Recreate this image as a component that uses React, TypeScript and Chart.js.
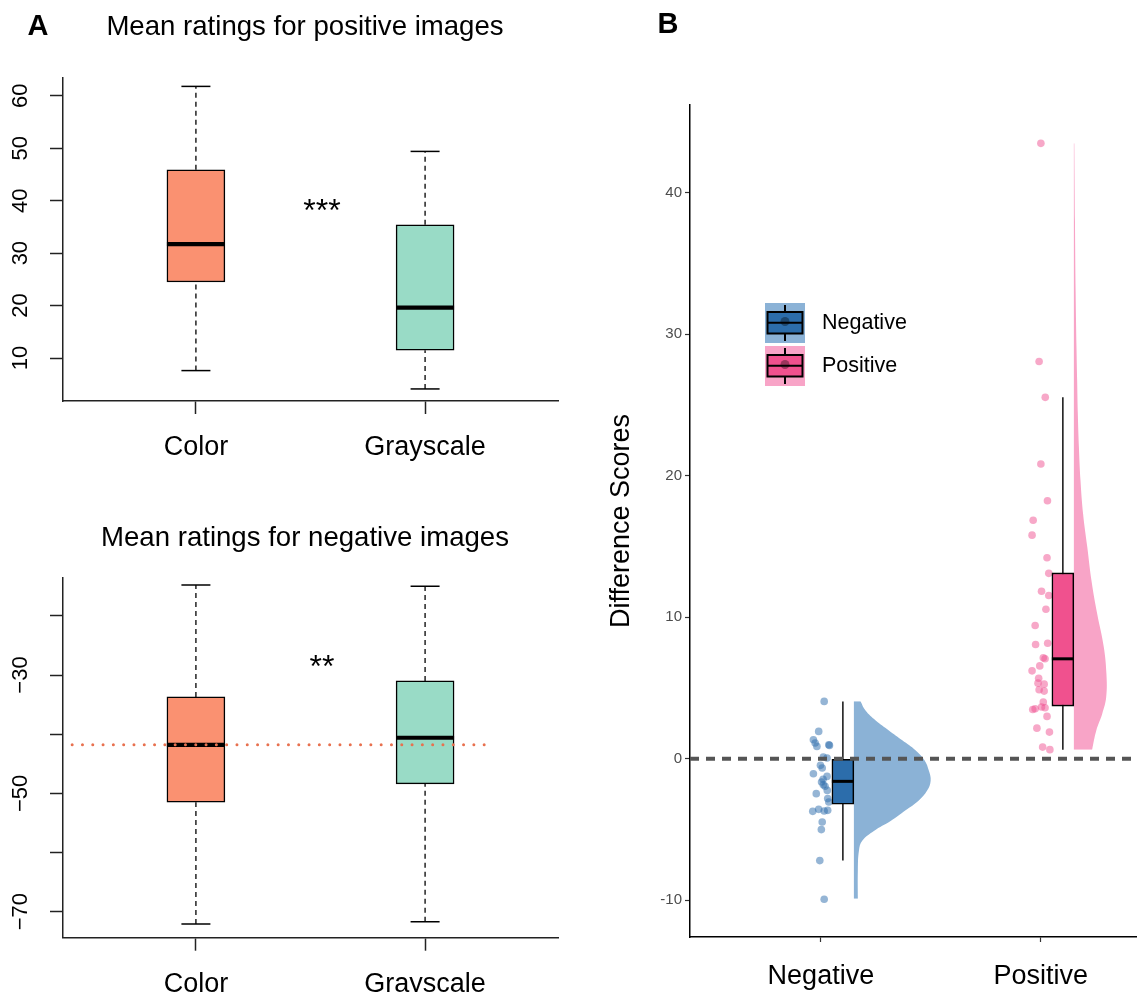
import React, { useEffect, useRef } from "react";
import { Chart, registerables } from "chart.js";

Chart.register(...registerables);

const FONT = "'Liberation Sans', Arial, Helvetica, sans-serif";
Chart.defaults.font.family = FONT;
Chart.defaults.color = "#000";

// ---------------- Panel A data ----------------
const groupsA = ["Color", "Grayscale"];

const posTitle = "Mean ratings for positive images";
const posMin = [7.6, 4.1];
const posQ1 = [24.5, 11.5];
const posMedian = [31.7, 19.6];
const posQ3 = [45.9, 35.4];
const posMax = [61.8, 49.4];
const posYTicks = [10, 20, 30, 40, 50, 60];
const posYLabels = [10, 20, 30, 40, 50, 60];
const posYRange = [1.8, 63.4];
const posStars = "***";
const posStarsAt = [1.55, 39.6];

const negTitle = "Mean ratings for negative images";
const negMin = [-72.1, -71.7];
const negQ1 = [-51.5, -48.4];
const negMedian = [-41.8, -40.6];
const negQ3 = [-33.7, -31.0];
const negMax = [-14.8, -15.0];
const negYTicks = [-70, -60, -50, -40, -30, -20];
const negYLabels = [-70, -50, -30];
const negYRange = [-74.4, -13.6];
const negStars = "**";
const negStarsAt = [1.55, -27.2];
const negRefX = [0.46, 2.28];
const negRefY = -41.8;

const xRangeA = [0.42, 2.58];

// ---------------- Panel B data ----------------
const groupsB = ["Negative", "Positive"];
const diffNeg = [
  4.05, 1.93, 1.34, 1.11, 0.87, 0.99, 0.94, 0.12, 0.05, -0.47, -0.66, -1.06, -1.25, -1.45,
  -1.65, -1.84, -1.95, -2.24, -2.47, -2.82, -3.06, -3.72, -3.58, -3.69, -3.65, -4.47, -5.01,
  -7.2, -9.93,
];
const diffNegJitter = [
  0.015, -0.01, -0.034, -0.026, -0.018, 0.036, 0.039, 0.011, 0.028, -0.002, 0.006, -0.034,
  0.028, 0.01, 0.003, 0.011, 0.019, 0.029, -0.021, 0.031, 0.036, -0.037, -0.01, 0.015, 0.031,
  0.006, 0.002, -0.005, 0.015,
];
const diffPos = [
  43.49, 28.07, 25.54, 20.83, 18.23, 16.85, 15.8, 14.2, 13.1, 11.84, 11.53, 10.56, 9.41, 8.16,
  8.07, 7.13, 7.06, 6.56, 6.21, 5.69, 5.34, 5.27, 4.87, 4.78, 4.0, 3.48, 3.53, 3.65, 3.6, 2.99,
  2.16, 1.88, 0.82, 0.64,
];
const diffPosJitter = [
  0.0, -0.008, 0.02, 0.0, 0.03, -0.035, -0.04, 0.028, 0.036, 0.003, 0.036, 0.023, -0.026, 0.031,
  -0.024, 0.011, 0.019, -0.005, -0.04, -0.01, -0.013, 0.015, -0.008, 0.015, 0.011, -0.037,
  -0.026, 0.003, 0.019, 0.028, -0.018, 0.039, 0.008, 0.041,
];
const boxBMin = [-7.2, 0.64];
const boxBQ1 = [-3.22, 3.72];
const boxBMedian = [-1.6, 7.06];
const boxBQ3 = [0.0, 13.13];
const boxBMax = [4.05, 25.54];

const negViolinY = [-9.9, -7.9, -6.5, -5.8, -5.1, -4.4, -3.65, -2.95, -2.25, -1.55, -0.85, -0.1, 0.6, 1.3, 2.0, 2.7, 3.4, 4.07];
const negViolinW = [0.018, 0.018, 0.023, 0.038, 0.091, 0.167, 0.235, 0.295, 0.333, 0.349, 0.341, 0.321, 0.28, 0.22, 0.159, 0.099, 0.053, 0.03];
const posViolinY = [0.64, 2.0, 3.18, 4.36, 6.0, 7.9, 10.25, 12.6, 14.96, 17.3, 19.7, 22.0, 24.4, 26.7, 29, 33, 38, 43.5];
const posViolinW = [0.083, 0.102, 0.129, 0.147, 0.148, 0.136, 0.106, 0.08, 0.061, 0.042, 0.03, 0.023, 0.018, 0.015, 0.012, 0.008, 0.005, 0.002];

const yTicksB = [-10, 0, 10, 20, 30, 40];
const yRangeB = [-12.6, 46.2];
const xRangeB = [0.405, 2.437];
const refLineB = 0;

// ---------------- styles ----------------
const boxColorsA = ["#FA9171", "#99DBC6"];
const refColor = "#E8714F";
const boxColorsB = ["#2C6DAB", "#F0518E"];
const pointColorsB = ["rgba(44,108,172,0.5)", "rgba(240,82,146,0.5)"];
const violinColorsB = ["#8BB2D6", "#F8A4C7"];

const fmtMinus = (v: number) => String(v).replace("-", "\u2212");

type BoxPanel = {
  title: string;
  titleY: number;
  mins: number[];
  q1: number[];
  med: number[];
  q3: number[];
  maxs: number[];
  yTicks: number[];
  yLabels: number[];
  yRange: number[];
  stars: string;
  starsAt: number[];
  letter?: string;
  ref?: { x: number[]; y: number };
  areaTop: number;
  xAxisHeight: number;
  yTickPad: number;
};

function boxPanelConfig(p: BoxPanel): any {
  const xs = p.q1.map((_, i) => i + 1);
  const whiskers: any[] = [];
  xs.forEach((x, i) => {
    whiskers.push({ x, y: p.mins[i] }, { x, y: p.q1[i] }, { x, y: null });
    whiskers.push({ x, y: p.q3[i] }, { x, y: p.maxs[i] }, { x, y: null });
  });
  const caps: any[] = [];
  xs.forEach((x, i) => caps.push({ x, y: p.mins[i] }, { x, y: p.maxs[i] }));
  const datasets: any[] = [
    {
      type: "line",
      data: whiskers,
      borderColor: "#000",
      borderWidth: 1.3,
      borderDash: [5, 4],
      pointRadius: 0,
      spanGaps: false,
      order: 6,
    },
    {
      type: "scatter",
      data: caps,
      pointStyle: "line",
      pointRadius: 14.5,
      pointBorderColor: "#000",
      borderColor: "#000",
      pointBorderWidth: 1.5,
      order: 5,
    },
    {
      type: "bar",
      data: xs.map((x, i) => ({ x, y: [p.q1[i], p.q3[i]] })),
      backgroundColor: boxColorsA,
      borderColor: "#000",
      borderWidth: 1.5,
      borderSkipped: false,
      barThickness: 58,
      order: 4,
    },
    {
      type: "scatter",
      data: xs.map((x, i) => ({ x, y: p.med[i] })),
      pointStyle: "line",
      pointRadius: 29,
      pointBorderColor: "#000",
      borderColor: "#000",
      pointBorderWidth: 4.2,
      order: 3,
    },
  ];
  if (p.ref) {
    datasets.push({
      type: "line",
      data: p.ref.x.map((x) => ({ x, y: p.ref!.y })),
      borderColor: refColor,
      borderWidth: 3,
      borderDash: [0, 10.3],
      borderCapStyle: "round",
      pointRadius: 0,
      order: 0,
    });
  }
  const annot = {
    id: "annotA",
    afterDatasetsDraw(chart: any) {
      const { ctx } = chart;
      const px = chart.scales.x.getPixelForValue(p.starsAt[0]);
      const py = chart.scales.y.getPixelForValue(p.starsAt[1]);
      ctx.save();
      ctx.fillStyle = "#000";
      ctx.font = `32px ${FONT}`;
      ctx.textAlign = "center";
      ctx.textBaseline = "alphabetic";
      ctx.fillText(p.stars, px, py + 32 * 0.58);
      ctx.font = `27.6px ${FONT}`;
      ctx.textBaseline = "middle";
      ctx.fillText(p.title, 305, p.titleY);
      if (p.letter) {
        ctx.font = `bold 29px ${FONT}`;
        ctx.fillText(p.letter, 38, 27);
      }
      ctx.restore();
    },
  };
  return {
    type: "scatter",
    data: { datasets },
    plugins: [annot],
    options: {
      responsive: false,
      animation: false,
      events: [],
      layout: { autoPadding: false, padding: { left: 0, right: 12, top: p.areaTop, bottom: 0 } },
      plugins: {
        legend: { display: false },
        tooltip: { enabled: false },
        title: { display: false },
      },
      scales: {
        x: {
          type: "linear",
          offset: false,
          min: xRangeA[0],
          max: xRangeA[1],
          bounds: "data",
          afterBuildTicks: (s: any) => {
            s.ticks = xs.map((v) => ({ value: v }));
          },
          afterFit: (s: any) => {
            s.height = p.xAxisHeight;
          },
          ticks: {
            autoSkip: false,
            maxRotation: 0,
            minRotation: 0,
            padding: 17.8,
            color: "#000",
            font: { size: 27, family: FONT },
            callback: (v: number) => groupsA[Math.round(v) - 1] ?? "",
          },
          grid: { display: true, offset: false, drawOnChartArea: false, drawTicks: true, tickLength: 13, tickColor: "#222", tickWidth: 1.5 },
          border: { display: true, color: "#222", width: 1.5 },
        },
        y: {
          type: "linear",
          offset: false,
          min: p.yRange[0],
          max: p.yRange[1],
          bounds: "data",
          afterBuildTicks: (s: any) => {
            s.ticks = p.yTicks.map((v) => ({ value: v }));
          },
          afterFit: (s: any) => {
            s.width = 63;
          },
          ticks: {
            autoSkip: false,
            minRotation: 90,
            maxRotation: 90,
            crossAlign: "center",
            padding: p.yTickPad,
            color: "#000",
            font: { size: 22, family: FONT },
            callback: (v: number) => (p.yLabels.includes(v) ? fmtMinus(v) : ""),
          },
          grid: { display: true, offset: false, drawOnChartArea: false, drawTicks: true, tickLength: 13, tickColor: "#222", tickWidth: 1.5 },
          border: { display: true, color: "#222", width: 1.5 },
        },
      },
    },
  };
}

function panelBConfig(): any {
  const centers = groupsB.map((_, i) => i + 1);
  const boxX = centers.map((c) => c + 0.1);
  const violinBase = centers.map((c) => c + 0.15);
  const whiskers: any[] = [];
  boxX.forEach((x, i) => whiskers.push({ x, y: boxBMin[i] }, { x, y: boxBMax[i] }, { x, y: null }));
  const violins = [
    { ys: negViolinY, ws: negViolinW },
    { ys: posViolinY, ws: posViolinW },
  ].map((v, i) => ({
    type: "line",
    indexAxis: "y",
    data: v.ys.map((y, k) => ({ x: violinBase[i] + v.ws[k], y })),
    fill: { value: violinBase[i] },
    backgroundColor: violinColorsB[i],
    borderColor: "rgba(0,0,0,0)",
    borderWidth: 0,
    pointRadius: 0,
    tension: 0.4,
    order: 10,
  }));
  const points = [
    { vals: diffNeg, jit: diffNegJitter },
    { vals: diffPos, jit: diffPosJitter },
  ].map((g, i) => ({
    type: "scatter",
    data: g.vals.map((y, k) => ({ x: centers[i] + g.jit[k], y })),
    backgroundColor: pointColorsB[i],
    pointBackgroundColor: pointColorsB[i],
    pointBorderWidth: 0,
    pointRadius: 3.8,
    order: 8,
  }));
  const datasets: any[] = [
    ...violins,
    ...points,
    {
      type: "line",
      data: whiskers,
      borderColor: "#000",
      borderWidth: 1.4,
      pointRadius: 0,
      spanGaps: false,
      order: 6,
    },
    {
      type: "bar",
      data: boxX.map((x, i) => ({ x, y: [boxBQ1[i], boxBQ3[i]] })),
      backgroundColor: boxColorsB,
      borderColor: "#000",
      borderWidth: 1.6,
      borderSkipped: false,
      barThickness: 22,
      order: 5,
    },
    {
      type: "scatter",
      data: boxX.map((x, i) => ({ x, y: boxBMedian[i] })),
      pointStyle: "line",
      pointRadius: 11,
      pointBorderColor: "#000",
      borderColor: "#000",
      pointBorderWidth: 3,
      order: 4,
    },
    {
      type: "line",
      data: xRangeB.map((x) => ({ x, y: refLineB })),
      borderColor: "#555",
      borderWidth: 4,
      borderDash: [9, 7],
      pointRadius: 0,
      order: 0,
    },
  ];
  const legendB = {
    id: "legendB",
    afterDraw(chart: any) {
      const { ctx } = chart;
      ctx.save();
      groupsB.forEach((label, i) => {
        const x0 = 185;
        const y0 = 303 + i * 43;
        const s = 40;
        ctx.fillStyle = violinColorsB[i];
        ctx.fillRect(x0, y0, s, s);
        ctx.strokeStyle = "#000";
        ctx.lineWidth = 2;
        ctx.beginPath();
        ctx.moveTo(x0 + s / 2, y0 + 2);
        ctx.lineTo(x0 + s / 2, y0 + s - 2);
        ctx.stroke();
        ctx.fillStyle = boxColorsB[i];
        ctx.fillRect(x0 + 2.5, y0 + 9, s - 5, 21.5);
        ctx.strokeRect(x0 + 2.5, y0 + 9, s - 5, 21.5);
        ctx.beginPath();
        ctx.moveTo(x0 + 2.5, y0 + 19.8);
        ctx.lineTo(x0 + s - 2.5, y0 + 19.8);
        ctx.stroke();
        ctx.fillStyle = "rgba(0,0,0,0.35)";
        ctx.beginPath();
        ctx.arc(x0 + s / 2, y0 + 18.5, 4.5, 0, Math.PI * 2);
        ctx.fill();
        ctx.fillStyle = "#000";
        ctx.font = `21.5px ${FONT}`;
        ctx.textAlign = "left";
        ctx.textBaseline = "middle";
        ctx.fillText(label, x0 + 57, y0 + s / 2);
      });
      ctx.font = `bold 29px ${FONT}`;
      ctx.textAlign = "center";
      ctx.fillText("B", 88, 25);
      ctx.restore();
    },
  };
  return {
    type: "scatter",
    data: { datasets },
    plugins: [legendB],
    options: {
      responsive: false,
      animation: false,
      events: [],
      layout: { autoPadding: false, padding: { left: 0, right: 0, top: 105, bottom: 0 } },
      plugins: { legend: { display: false }, tooltip: { enabled: false } },
      scales: {
        x: {
          type: "linear",
          offset: false,
          min: xRangeB[0],
          max: xRangeB[1],
          bounds: "data",
          afterBuildTicks: (s: any) => {
            s.ticks = centers.map((v) => ({ value: v }));
          },
          afterFit: (s: any) => {
            s.height = 55;
          },
          ticks: {
            autoSkip: false,
            maxRotation: 0,
            minRotation: 0,
            padding: 18,
            color: "#000",
            font: { size: 27, family: FONT },
            callback: (v: number) => groupsB[Math.round(v) - 1] ?? "",
          },
          grid: { display: true, offset: false, drawOnChartArea: false, drawTicks: true, tickLength: 5, tickColor: "#333", tickWidth: 1.2 },
          border: { display: true, color: "#000", width: 1.5 },
        },
        y: {
          type: "linear",
          offset: false,
          min: yRangeB[0],
          max: yRangeB[1],
          bounds: "data",
          afterBuildTicks: (s: any) => {
            s.ticks = yTicksB.map((v) => ({ value: v }));
          },
          afterFit: (s: any) => {
            s.width = 110;
          },
          title: {
            display: true,
            text: "Difference Scores",
            color: "#000",
            font: { size: 27, family: FONT },
            padding: { top: 25.8, bottom: 0 },
          },
          ticks: {
            autoSkip: false,
            padding: 3,
            color: "#4D4D4D",
            font: { size: 15, family: FONT },
            callback: (v: number) => String(v),
          },
          grid: { display: true, offset: false, drawOnChartArea: false, drawTicks: true, tickLength: 5, tickColor: "#333", tickWidth: 1.2 },
          border: { display: true, color: "#000", width: 1.5 },
        },
      },
    },
  };
}

export default function App() {
  const r1 = useRef<HTMLCanvasElement>(null);
  const r2 = useRef<HTMLCanvasElement>(null);
  const r3 = useRef<HTMLCanvasElement>(null);

  useEffect(() => {
    const c1 = new Chart(
      r1.current!,
      boxPanelConfig({
        title: posTitle,
        titleY: 27,
        mins: posMin,
        q1: posQ1,
        med: posMedian,
        q3: posQ3,
        maxs: posMax,
        yTicks: posYTicks,
        yLabels: posYLabels,
        yRange: posYRange,
        stars: posStars,
        starsAt: posStarsAt,
        letter: "A",
        areaTop: 78,
        xAxisHeight: 69,
        yTickPad: 16.8,
      })
    );
    const c2 = new Chart(
      r2.current!,
      boxPanelConfig({
        title: negTitle,
        titleY: 38,
        mins: negMin,
        q1: negQ1,
        med: negMedian,
        q3: negQ3,
        maxs: negMax,
        yTicks: negYTicks,
        yLabels: negYLabels,
        yRange: negYRange,
        stars: negStars,
        starsAt: negStarsAt,
        ref: { x: negRefX, y: negRefY },
        areaTop: 78,
        xAxisHeight: 54.3,
        yTickPad: 10.3,
      })
    );
    const c3 = new Chart(r3.current!, panelBConfig());
    return () => {
      c1.destroy();
      c2.destroy();
      c3.destroy();
    };
  }, []);

  return (
    <div
      style={{
        position: "fixed",
        left: 0,
        top: 0,
        width: 1137,
        height: 992,
        overflow: "hidden",
        background: "#fff",
      }}
    >
      <canvas ref={r1} width={570} height={470} style={{ position: "absolute", left: 0, top: 0, width: 570, height: 470 }} />
      <canvas ref={r2} width={570} height={492} style={{ position: "absolute", left: 0, top: 500, width: 570, height: 492 }} />
      <canvas ref={r3} width={557} height={992} style={{ position: "absolute", left: 580, top: 0, width: 557, height: 992 }} />
    </div>
  );
}
